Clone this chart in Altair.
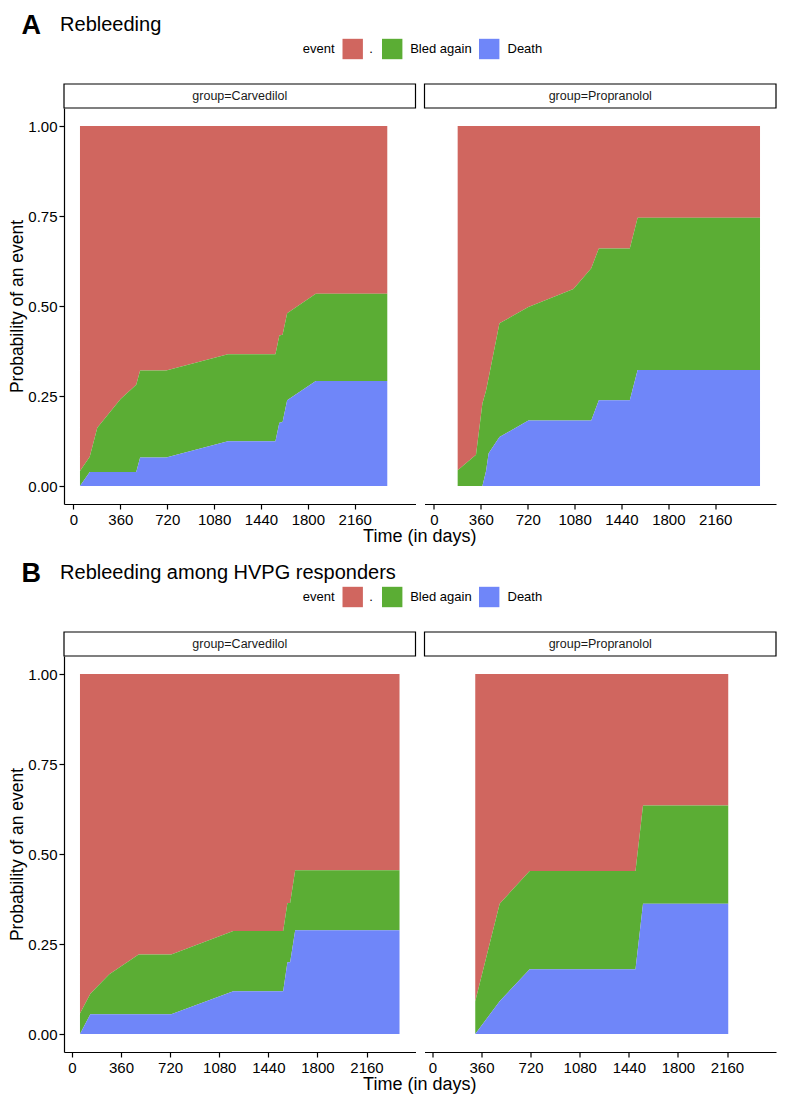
import altair as alt
import pandas as pd

FONT = "Liberation Sans"
EVENTS = [".", "Bled again", "Death"]
COLORS = ["#D0665F", "#5BAD34", "#6F86F9"]
STACK_ORDER = [2, 1, 0]
GROUPS = ["Carvedilol", "Propranolol"]
LETTERS = ["A", "B"]
TITLES = ["Rebleeding", "Rebleeding among HVPG responders"]
LEGEND_TITLE = "event"
X_TITLE = "Time (in days)"
Y_TITLE = "Probability of an event"
X_TICKS = [0, 360, 720, 1080, 1440, 1800, 2160]
Y_TICKS = [0, 0.25, 0.5, 0.75, 1.0]

# Section A - Rebleeding, Carvedilol
a_carv_time = [50, 125, 183, 362, 482, 512, 712, 1186, 1551, 1581, 1606, 1641, 1861, 2410]
a_carv_death = [0, .039, .039, .039, .039, .079, .079, .124, .124, .176, .178, .238, .292, .292]
a_carv_bleed = [.042, .042, .123, .203, .242, .242, .242, .242, .242, .242, .242, .242, .242, .242]
# Section A - Rebleeding, Propranolol
a_prop_time = [182, 323, 372, 400, 420, 503, 725, 1071, 1208, 1266, 1504, 1564, 2504]
a_prop_death = [0, 0, 0, .042, .091, .136, .182, .182, .182, .238, .238, .322, .322]
a_prop_bleed = [.044, .087, .229, .223, .210, .316, .315, .365, .423, .422, .422, .423, .423]
# Section B - HVPG responders, Carvedilol
b_carv_time = [59, 135, 274, 489, 728, 1183, 1549, 1580, 1600, 1637, 2402]
b_carv_death = [0, .055, .055, .055, .055, .119, .119, .199, .199, .288, .288]
b_carv_bleed = [.057, .057, .111, .166, .166, .167, .167, .165, .165, .167, .167]
# Section B - HVPG responders, Propranolol
b_prop_time = [314, 493, 713, 1489, 1544, 2169]
b_prop_death = [0, .091, .180, .180, .362, .362]
b_prop_bleed = [.091, .271, .273, .273, .273, .273]

W = 351.5          # panel width
H = 396            # panel height
GAP = 8.5          # gap between the two panels
SECTION_STEP = 548  # distance between the tops of the two sections' panels
Y_DOMAIN = [-0.05, 1.05]
CENTER = (2 * W + GAP) / 2

# legend layout (pixel offsets relative to the left panel)
LEG_Y = -59
LEG_TITLE_RIGHT = 270.5
LEG_SWATCH_CX = [288.7, 328.2, 425.2]
LEG_LABEL_X = [305.2, 346.2, 443.5]


def long_df(times, death, bleed):
    rows = []
    for t, d, b in zip(times, death, bleed):
        vals = {".": 1 - d - b, "Bled again": b, "Death": d}
        for ev, o in zip(EVENTS, STACK_ORDER):
            rows.append({"time": t, "event": ev, "value": vals[ev], "ord": o})
    return pd.DataFrame(rows)


def x_domain(all_times):
    lo, hi = min(all_times), max(all_times)
    pad = 0.05 * (hi - lo)
    return [lo - pad, hi + pad]


def axis_common():
    return dict(labelFontSize=15, labelFont=FONT, labelColor="black", tickColor="black",
                domainColor="black", tickSize=5, tickWidth=1.2, domainWidth=1.2, grid=False)


def header_layers(letter, title):
    hd = pd.DataFrame({"letter": [letter], "title": [title], "xt": [X_TITLE], "lt": [LEGEND_TITLE]})
    layers = [
        alt.Chart(hd).mark_text(fontSize=27, fontWeight="bold", font=FONT, color="black",
                                align="left", baseline="alphabetic").encode(
            x=alt.value(-42.5), y=alt.value(-74.5), text="letter:N"),
        alt.Chart(hd).mark_text(fontSize=20, font=FONT, color="black",
                                align="left", baseline="alphabetic").encode(
            x=alt.value(-3.9), y=alt.value(-77.5), text="title:N"),
        alt.Chart(hd).mark_text(fontSize=18, font=FONT, color="black",
                                align="center", baseline="alphabetic").encode(
            x=alt.value(CENTER), y=alt.value(H + 38), text="xt:N"),
        alt.Chart(hd).mark_text(fontSize=13, font=FONT, color="black",
                                align="right", baseline="middle").encode(
            x=alt.value(LEG_TITLE_RIGHT), y=alt.value(LEG_Y), text="lt:N"),
    ]
    for ev, col, cx, lx in zip(EVENTS, COLORS, LEG_SWATCH_CX, LEG_LABEL_X):
        ed = pd.DataFrame({"event": [ev]})
        layers.append(alt.Chart(ed).mark_rect(fill=col).encode(
            x=alt.value(cx - 10.2), x2=alt.value(cx + 10.2),
            y=alt.value(LEG_Y - 10.2), y2=alt.value(LEG_Y + 10.2)))
        layers.append(alt.Chart(ed).mark_text(fontSize=13, font=FONT, color="black",
                                              align="left", baseline="middle").encode(
            x=alt.value(lx), y=alt.value(LEG_Y), text="event:N"))
    return layers


def panel(df, group, domain, left, letter=None, title=None):
    area = alt.Chart(df).mark_area(interpolate="linear", fillOpacity=1, opacity=1).encode(
        x=alt.X("time:Q", scale=alt.Scale(domain=domain, nice=False, zero=False),
                axis=alt.Axis(values=X_TICKS, format="d", title=None, labelPadding=3,
                              labelFlush=False, labelOverlap=False, **axis_common())),
        y=alt.Y("value:Q", stack="zero", scale=alt.Scale(domain=Y_DOMAIN, nice=False, zero=False),
                axis=(alt.Axis(values=Y_TICKS, format=".2f", title=Y_TITLE,
                               titleFontSize=17.5, titleFontWeight="normal", titleFont=FONT,
                               titleColor="black", titlePadding=1.5, labelPadding=2,
                               **axis_common()) if left else None)),
        color=alt.Color("event:N", scale=alt.Scale(domain=EVENTS, range=COLORS), legend=None),
        order=alt.Order("ord:Q", sort="ascending"),
    )
    strip_df = pd.DataFrame({"label": [f"group={group}"]})
    strip_rect = alt.Chart(strip_df).mark_rect(fill="white", stroke="black", strokeWidth=1.2).encode(
        x=alt.value(0), x2=alt.value(W), y=alt.value(-24), y2=alt.value(0))
    strip_text = alt.Chart(strip_df).mark_text(fontSize=12.5, font=FONT, color="#1a1a1a",
                                               baseline="middle", align="center").encode(
        x=alt.value(W / 2), y=alt.value(-12), text="label:N")
    layers = [area, strip_rect, strip_text]
    if left:
        layers += header_layers(letter, title)
    return alt.layer(*layers).properties(width=W, height=H)


sections = []
data_sets = [
    [(a_carv_time, a_carv_death, a_carv_bleed), (a_prop_time, a_prop_death, a_prop_bleed)],
    [(b_carv_time, b_carv_death, b_carv_bleed), (b_prop_time, b_prop_death, b_prop_bleed)],
]
for si, sets in enumerate(data_sets):
    dom = x_domain(sets[0][0] + sets[1][0])
    p_left = panel(long_df(*sets[0]), GROUPS[0], dom, True, LETTERS[si], TITLES[si])
    p_right = panel(long_df(*sets[1]), GROUPS[1], dom, False)
    sections.append(alt.hconcat(p_left, p_right, spacing=GAP, bounds="flush"))

chart = alt.vconcat(*sections, spacing=SECTION_STEP, bounds="flush").properties(
    padding={"left": 0, "top": 3, "right": 0, "bottom": 0}
).configure(font=FONT).configure_view(stroke="transparent", strokeWidth=0)

chart.save("out.html", embed_options={"renderer": "svg", "actions": False})
